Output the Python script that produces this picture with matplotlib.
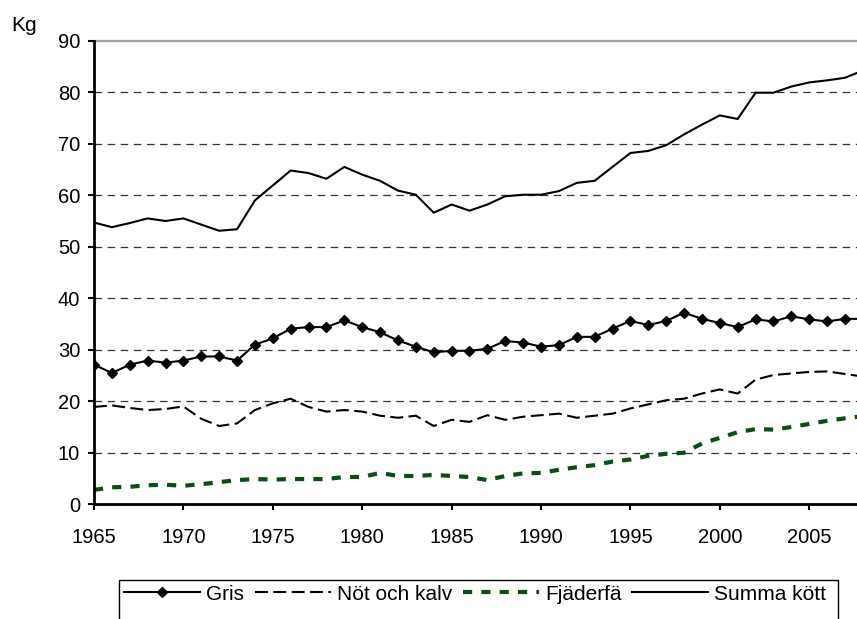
import numpy as np
import matplotlib
matplotlib.use("Agg")
import matplotlib.pyplot as plt
from matplotlib.patches import Rectangle

plt.rcParams['font.family'] = ['Liberation Sans', 'DejaVu Sans']

# Köttkonsumtion per person, kg
years = list(range(1965, 2009))
gris = [27.1, 25.5, 27.1, 27.9, 27.5, 27.9, 28.7, 28.7, 27.9, 31.0,
        32.2, 34.1, 34.4, 34.4, 35.7, 34.4, 33.4, 31.8, 30.6, 29.5,
        29.8, 29.8, 30.2, 31.7, 31.4, 30.6, 30.9, 32.5, 32.5, 34.1,
        35.6, 34.8, 35.6, 37.2, 36.0, 35.2, 34.4, 35.9, 35.5, 36.5,
        35.9, 35.5, 36.0, 36.0]
not_kalv = [18.9, 19.2, 18.7, 18.3, 18.5, 19.0, 16.6, 15.2, 15.7, 18.3,
            19.6, 20.5, 18.9, 18.0, 18.3, 18.0, 17.2, 16.8, 17.2, 15.2,
            16.4, 16.0, 17.3, 16.4, 17.0, 17.3, 17.6, 16.8, 17.2, 17.6,
            18.6, 19.4, 20.2, 20.5, 21.5, 22.3, 21.5, 24.2, 25.1, 25.4,
            25.7, 25.8, 25.3, 24.8]
fjaderfa = [2.8, 3.3, 3.4, 3.7, 3.8, 3.6, 3.9, 4.3, 4.7, 4.9,
            4.8, 4.9, 4.9, 4.9, 5.3, 5.3, 6.1, 5.5, 5.5, 5.7,
            5.5, 5.3, 4.7, 5.5, 6.0, 6.1, 6.7, 7.2, 7.6, 8.3,
            8.7, 9.4, 9.8, 10.0, 11.8, 12.9, 14.0, 14.6, 14.5, 15.0,
            15.6, 16.2, 16.7, 17.1]
summa = [54.7, 53.8, 54.6, 55.5, 55.0, 55.5, 54.3, 53.1, 53.4, 59.0,
         61.9, 64.8, 64.3, 63.2, 65.5, 64.0, 62.8, 60.9, 60.1, 56.6,
         58.2, 57.0, 58.2, 59.8, 60.1, 60.1, 60.8, 62.4, 62.8, 65.5,
         68.2, 68.6, 69.7, 71.8, 73.7, 75.5, 74.8, 79.9, 79.9, 81.1,
         81.9, 82.3, 82.8, 84.2]

W, H = 857, 619
fig = plt.figure(figsize=(W/100, H/100), dpi=100)
ax = fig.add_axes([94/W, 1 - 504.3/H, 763/W, 463.6/H])

# rutnät
for v in range(10, 90, 10):
    ax.axhline(v, color="#333333", lw=0.9, ls=(0, (6, 4.5)), zorder=0)
ax.axhline(90, color="#a0a0a0", lw=1.6, zorder=0, clip_on=False)

ax.plot(years, gris, color="black", lw=1.5, marker="D", markersize=4.8,
        label="Gris")
ax.plot(years, not_kalv, color="black", lw=1.5, ls=(0, (6.2, 2.6)),
        label="Nöt och kalv")
ax.plot(years, fjaderfa, color="#0b4d15", lw=3.0, ls=(0, (2.2, 2.2)),
        label="Fjäderfä")
ax.plot(years, summa, color="black", lw=1.5, label="Summa kött")

ax.set_xlim(1965, 1965 + 763/17.88)
ax.set_ylim(0, 90)
ax.set_xticks(range(1965, 2006, 5))
ax.set_yticks(range(0, 91, 10))
for s in ["top", "right"]:
    ax.spines[s].set_visible(False)
for s in ["left", "bottom"]:
    ax.spines[s].set_linewidth(2)
ax.tick_params(direction="out", length=4, width=1.5, labelsize=14.5)
ax.tick_params(axis="y", pad=6)
ax.tick_params(axis="x", pad=13)

fig.text(11/W, 1 - 16/H, "Kg", fontsize=15, va="top")

# legendram (nedre kanten utanför bilden)
fig.patches.append(Rectangle((119/W, 1 - 640/H), 719/W, 60/H,
                             transform=fig.transFigure, fill=False,
                             edgecolor="black", lw=1))
leg = fig.legend(loc="center left", bbox_to_anchor=(124/W, 1 - 594/H),
                 ncol=4, fontsize=15, frameon=False, handlelength=3.65,
                 handletextpad=0.3, columnspacing=0.5, borderpad=0,
                 borderaxespad=0)

fig.savefig("out.png", dpi=100)
